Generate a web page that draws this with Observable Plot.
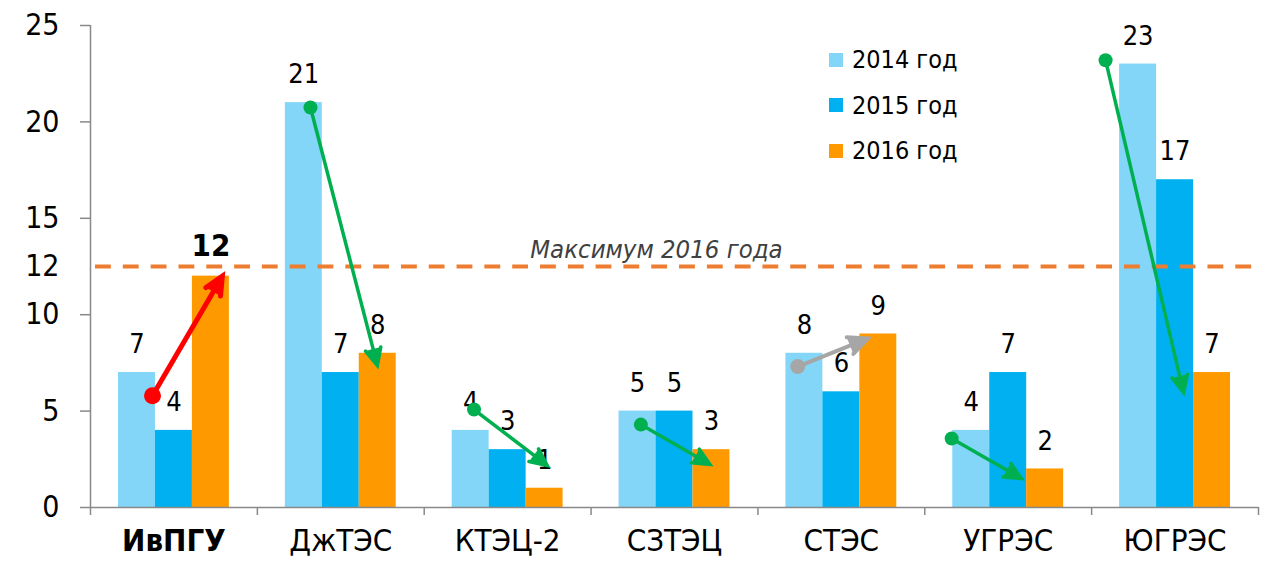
<!DOCTYPE html>
<html><head><meta charset="utf-8">
<script src="https://cdn.jsdelivr.net/npm/d3@7"></script>
<script src="https://cdn.jsdelivr.net/npm/@observablehq/plot@0.6"></script>
<style>
html,body{margin:0;padding:0;background:#fff;}
#wrap{position:relative;width:1271px;height:563px;overflow:hidden;font-family:"DejaVu Sans Condensed","DejaVu Sans",sans-serif;font-stretch:condensed;}
#chart{position:absolute;left:0;top:0;}
#legend{position:absolute;left:829px;top:37px;}
.item{display:flex;align-items:center;height:45.5px;font-size:25px;color:#000;}
.sw{width:14px;height:14px;margin-right:9px;}
</style></head><body>
<div id="wrap"><div id="chart"></div><div id="legend"></div></div>
<script>
// ---- data ----
const stations = ["ИвПГУ","ДжТЭС","КТЭЦ-2","СЗТЭЦ","СТЭС","УГРЭС","ЮГРЭС"];
const focusStation = "ИвПГУ";
const yearKeys = ["2014 год","2015 год","2016 год"];
const v2014 = [7,21,4,5,8,4,23];
const v2015 = [4,7,3,5,6,7,17];
const v2016 = [12,8,1,3,9,2,7];
const yTicks = [0,5,10,15,20,25];
const maxLineY = 12.5;
const maxLineText = "Максимум 2016 года";
// trend arrows (slot units within each group: 0..3 = bars 2014..2016)
const arrowKind = ["focus","down","down","down","up","down","down"];
const arrowX1 = [0.92,0.68,0.59,0.59,0.32,-0.03,-0.38];
const arrowY1 = [5.8,20.75,5.08,4.3,7.31,3.58,23.2];
const arrowX2 = [2.81,2.49,2.57,2.46,2.22,1.86,1.73];
const arrowY2 = [12.0,7.37,2.18,2.23,8.77,1.5,5.96];

// ---- styling ----
const FONT = '"DejaVu Sans Condensed", "DejaVu Sans", sans-serif';
const yearColors = ["#83D6F8","#00B0F0","#FF9900"];
const kindColor = {focus:"#FF0000", down:"#00B050", up:"#A6A6A6"};
const kindWidth = {focus:5, down:3.5, up:4};
const kindR = {focus:8.5, down:7, up:7.5};
const axisColor = "#898989";
const slotDomain = [-0.757, 3.757];
const slotMid = (slotDomain[0]+slotDomain[1])/2;

const series = [v2014, v2015, v2016];
const bars = stations.flatMap((s,k)=>yearKeys.map((yr,i)=>({station:s, year:yr, slot:i, value:series[i][k]})));
const arrows = stations.map((s,k)=>({station:s, kind:arrowKind[k], x1:arrowX1[k], y1:arrowY1[k], x2:arrowX2[k], y2:arrowY2[k]}));
const isFocusMax = d => d.station===focusStation && d.slot===2;
const maxValue2016 = d3.max(v2016);

const marks = [
  Plot.rect(bars,{fx:"station", x1:"slot", x2:d=>d.slot+1, y1:()=>0, y2:"value", fill:"year"}),
  Plot.ruleY([maxLineY],{stroke:"#ED7D31", strokeWidth:4, strokeDasharray:"15.83,12", strokeDashoffset:-5}),
  Plot.text([maxLineText],{fx:()=>"СЗТЭЦ", x:()=>slotMid, y:()=>maxLineY, text:d=>d, dy:-17, dx:-18, fontSize:25.5, fontStyle:"italic", fill:"#404040"}),
  // axes
  Plot.ruleY([0],{stroke:axisColor, strokeWidth:1.5}),
  Plot.ruleX([stations[0]],{fx:d=>d, x:()=>slotDomain[0], stroke:axisColor, strokeWidth:1.5}),
  Plot.ruleX(stations,{fx:d=>d, x:()=>slotDomain[0], y1:()=>0, y2:()=>0, insetBottom:-8, stroke:axisColor, strokeWidth:1.5}),
  Plot.ruleX([stations[stations.length-1]],{fx:d=>d, x:()=>slotDomain[1], y1:()=>0, y2:()=>0, insetBottom:-8, stroke:axisColor, strokeWidth:1.5}),
  Plot.axisY({ticks:yTicks, tickSize:10, tickPadding:21, fontSize:30, stroke:axisColor, strokeWidth:1.5, fill:"#000"}),
  Plot.axisY({ticks:[maxLineY], tickSize:0, tickPadding:31, fontSize:30, tickFormat:()=>String(maxValue2016), fill:"#000"}),
  Plot.text(stations.filter(s=>s!==focusStation),{fx:d=>d, x:()=>slotMid, frameAnchor:"bottom", dy:43, text:d=>d, fontSize:31, fill:"#000"}),
  Plot.text([focusStation],{fx:d=>d, x:()=>slotMid, frameAnchor:"bottom", dy:43, text:d=>d, fontSize:31, fontWeight:"bold", fill:"#000"}),
  // value labels
  Plot.text(bars.filter(d=>!isFocusMax(d)),{fx:"station", x:d=>d.slot+0.5, y:"value", text:d=>String(d.value), dy:-28, fontSize:27, fill:"#000"}),
  Plot.text(bars.filter(isFocusMax),{fx:"station", x:d=>d.slot+0.5, y:"value", text:d=>String(d.value), dy:-30, fontSize:31, fontWeight:"bold", fill:"#000"}),
];
for (const kind of ["down","up","focus"]) {
  const data = arrows.filter(a=>a.kind===kind);
  marks.push(Plot.arrow(data,{fx:"station", x1:"x1", y1:"y1", x2:"x2", y2:"y2", stroke:kindColor[kind], fill:kindColor[kind], strokeWidth:kindWidth[kind], headLength:kind==="focus"?6:8, headAngle:50, strokeLinejoin:"miter", strokeMiterlimit:4}));
  marks.push(Plot.dot(data,{fx:"station", x:"x1", y:"y1", r:kindR[kind], fill:kindColor[kind]}));
}

const chart = Plot.plot({
  width:1271, height:563,
  marginLeft:90, marginRight:13, marginTop:25, marginBottom:56,
  style:{fontFamily:FONT, fontStretch:"condensed", background:"transparent", overflow:"visible"},
  fx:{domain:stations, padding:0, round:false, axis:null, label:null},
  x:{domain:slotDomain, axis:null},
  y:{domain:[0,25], axis:null},
  color:{domain:yearKeys, range:yearColors},
  marks
});
document.getElementById("chart").appendChild(chart);

const legend = document.getElementById("legend");
yearKeys.forEach((k,i)=>{
  const row = document.createElement("div"); row.className="item";
  const sw = document.createElement("div"); sw.className="sw"; sw.style.background = yearColors[i];
  const t = document.createElement("span"); t.textContent = k;
  row.appendChild(sw); row.appendChild(t); legend.appendChild(row);
});
</script>
</body></html>
